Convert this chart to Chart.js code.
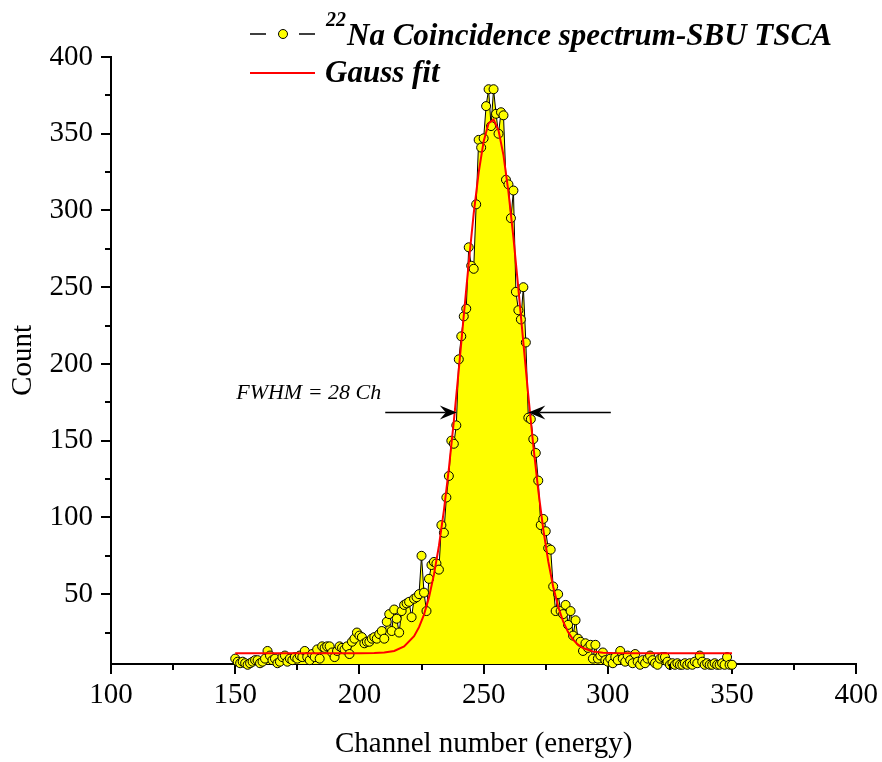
<!DOCTYPE html>
<html lang="en">
<head>
  <meta charset="UTF-8">
  <title>22Na Coincidence spectrum - SBU TSCA</title>
  <script src="https://cdn.jsdelivr.net/npm/chart.js"></script>
  <style>
    body { margin: 0; background: #ffffff; }
    #wrap { width: 882px; height: 762px; }
  </style>
</head>
<body>
  <div id="wrap"><canvas id="spectrum" width="882" height="762"></canvas></div>

  <script>
    // Measured spectrum, one count per channel starting at channel 150
    const firstChannel = 150;
    const counts = [
      8, 6, 5, 6, 5, 4, 5, 6, 7, 7,
      5, 6, 8, 13, 10, 7, 8, 5, 6, 9,
      10, 6, 8, 7, 9, 8, 10, 9, 13, 9,
      7, 11, 9, 14, 8, 16, 15, 16, 16, 12,
      9, 13, 16, 15, 14, 16, 11, 19, 21, 25,
      23, 22, 18, 19, 19, 21, 22, 21, 24, 26,
      21, 32, 37, 26, 40, 34, 25, 39, 43, 44,
      45, 35, 47, 48, 50, 75, 51, 39, 60, 69,
      71, 70, 66, 95, 90, 113, 127, 150, 148, 160,
      203, 218, 231, 236, 276, 264, 262, 304, 346, 341,
      347, 368, 379, 355, 379, 363, 350, 364, 362, 320,
      317, 295, 313, 247, 235, 229, 250, 214, 165, 164,
      151, 142, 124, 95, 99, 91, 80, 79, 55, 39,
      50, 39, 37, 43, 30, 39, 23, 33, 21, 19,
      13, 18, 15, 17, 8, 17, 8, 10, 12, 7,
      6, 8, 5, 9, 7, 13, 8, 6, 10, 7,
      5, 11, 6, 4, 7, 5, 8, 10, 7, 5,
      4, 8, 9, 9, 6, 4, 5, 4, 5, 4,
      4, 5, 4, 5, 4, 6, 5, 10, 6, 4,
      5, 4, 4, 5, 4, 4, 5, 4, 9, 4,
      4
    ];

    // Gauss fit curve
    const fitChannels = [150, 170, 190, 200, 206, 210, 214, 218, 222, 224, 226, 228, 230, 232, 234, 236, 238,
      240, 242, 244, 246, 248, 250, 252, 254, 256, 258, 260, 262, 264, 266, 268, 270, 272, 274, 276, 278,
      280, 282, 284, 286, 288, 290, 294, 298, 302, 310, 330, 350];
    const fitCounts = [11.5, 11.5, 11.5, 11.5, 11.6, 12.0, 13.0, 15.9, 22.6, 28.5, 36.7, 47.9, 62.7, 81.4, 104.4, 131.6, 162.6,
      196.3, 231.4, 265.9, 297.9, 324.7, 345.0, 356.8, 359.2, 352.0, 335.9, 312.0, 282.3, 248.8, 213.7, 179.2, 146.8, 117.6, 92.4, 71.5, 54.8,
      41.9, 32.2, 25.3, 20.4, 17.1, 14.9, 12.7, 11.9, 11.6, 11.5, 11.5, 11.5];

    const xTicks = [100, 150, 200, 250, 300, 350, 400];
    const xMinor = [125, 175, 225, 275, 325, 375];
    const yTicks = [50, 100, 150, 200, 250, 300, 350, 400];
    const yMinor = [25, 75, 125, 175, 225, 275, 325, 375];

    // FWHM arrows: [from channel, tip channel], drawn at count level fwhmLevel
    const fwhmLevel = 169;
    const fwhmArrows = [[210.4, 239.2], [301.2, 268]];
    const fwhmText = 'FWHM = 28 Ch';

    const serif = '"Liberation Serif", "Times New Roman", serif';
    Chart.defaults.font.family = serif;
    Chart.defaults.color = '#000';

    // minor ticks on both axes
    const minorTicks = {
      id: 'minorTicks',
      afterDraw(chart) {
        const { ctx, chartArea, scales } = chart;
        ctx.save();
        ctx.strokeStyle = '#000';
        ctx.lineWidth = 2;
        ctx.beginPath();
        xMinor.forEach(v => {
          const px = Math.round(scales.x.getPixelForValue(v));
          ctx.moveTo(px, chartArea.bottom);
          ctx.lineTo(px, chartArea.bottom + 6);
        });
        yMinor.forEach(v => {
          const py = Math.round(scales.y.getPixelForValue(v));
          ctx.moveTo(chartArea.left, py);
          ctx.lineTo(chartArea.left - 6, py);
        });
        ctx.stroke();
        ctx.restore();
      }
    };

    function arrowHead(ctx, x, y, dir) {
      // dir = 1 points right, -1 points left
      ctx.beginPath();
      ctx.moveTo(x, y);
      ctx.lineTo(x - dir * 17, y - 7);
      ctx.lineTo(x - dir * 11, y);
      ctx.lineTo(x - dir * 17, y + 7);
      ctx.closePath();
      ctx.fill();
    }

    const fwhmNote = {
      id: 'fwhmNote',
      afterDatasetsDraw(chart) {
        const { ctx, scales } = chart;
        const py = Math.round(scales.y.getPixelForValue(fwhmLevel)) + 0.5;
        ctx.save();
        ctx.strokeStyle = '#000';
        ctx.fillStyle = '#000';
        ctx.lineWidth = 1.5;
        fwhmArrows.forEach(([from, tip]) => {
          const x0 = scales.x.getPixelForValue(from);
          const x1 = scales.x.getPixelForValue(tip);
          const dir = x1 > x0 ? 1 : -1;
          ctx.beginPath();
          ctx.moveTo(x0, py);
          ctx.lineTo(x1 - dir * 11, py);
          ctx.stroke();
          arrowHead(ctx, x1, py, dir);
        });
        ctx.font = 'italic 22px ' + serif;
        ctx.textBaseline = 'alphabetic';
        ctx.fillText(fwhmText, scales.x.getPixelForValue(150.4), py - 14);
        ctx.restore();
      }
    };

    // legend with superscript isotope label
    const spectrumLegend = {
      id: 'spectrumLegend',
      afterDraw(chart) {
        const ctx = chart.ctx;
        ctx.save();
        ctx.strokeStyle = '#000';
        ctx.lineWidth = 1.5;
        ctx.beginPath();
        ctx.moveTo(250, 34); ctx.lineTo(266, 34);
        ctx.moveTo(299, 34); ctx.lineTo(315, 34);
        ctx.stroke();
        ctx.lineWidth = 1;
        ctx.beginPath();
        ctx.arc(283, 34, 4.5, 0, Math.PI * 2);
        ctx.fillStyle = '#ffff00';
        ctx.fill();
        ctx.stroke();

        ctx.strokeStyle = '#ff0000';
        ctx.lineWidth = 2;
        ctx.beginPath();
        ctx.moveTo(250, 73); ctx.lineTo(315, 73);
        ctx.stroke();

        ctx.fillStyle = '#000';
        ctx.textBaseline = 'alphabetic';
        ctx.font = 'bold italic 20px ' + serif;
        ctx.fillText('22', 326, 26);
        ctx.font = 'bold italic 31px ' + serif;
        ctx.fillText('Na Coincidence spectrum-SBU TSCA', 347, 45);
        ctx.fillText('Gauss fit', 325, 82);
        ctx.restore();
      }
    };

    const axisGrid = {
      display: true,
      drawOnChartArea: false,
      drawTicks: true,
      tickLength: 10,
      color: '#000',
      lineWidth: 2
    };

    new Chart(document.getElementById('spectrum'), {
      type: 'line',
      data: {
        datasets: [
          {
            label: 'Gauss fit',
            data: fitChannels.map((c, i) => ({ x: c, y: fitCounts[i] })),
            borderColor: '#ff0000',
            borderWidth: 2,
            pointRadius: 0,
            fill: false,
            tension: 0
          },
          {
            label: '22Na Coincidence spectrum-SBU TSCA',
            data: counts.map((c, i) => ({ x: firstChannel + i, y: c })),
            borderColor: '#000',
            borderWidth: 1,
            pointRadius: 4.5,
            pointBackgroundColor: '#ffff00',
            pointBorderColor: '#000',
            pointBorderWidth: 1,
            backgroundColor: '#ffff00',
            fill: 'start',
            tension: 0,
            clip: false
          }
        ]
      },
      options: {
        responsive: false,
        animation: false,
        layout: { padding: { left: 0, top: 57, right: 21, bottom: 0 } },
        plugins: {
          legend: { display: false },
          tooltip: { enabled: false }
        },
        scales: {
          x: {
            type: 'linear',
            min: 100,
            max: 400,
            afterBuildTicks: s => { s.ticks = xTicks.map(v => ({ value: v })); },
            afterFit: s => { s.height = 98; },
            grid: axisGrid,
            border: { color: '#000', width: 2 },
            ticks: { font: { size: 29 }, color: '#000', padding: 4, maxRotation: 0 },
            title: {
              display: true,
              text: 'Channel number (energy)',
              font: { size: 29 },
              color: '#000',
              padding: { top: 0, bottom: 0 }
            }
          },
          y: {
            type: 'linear',
            min: 4.5,
            max: 400,
            afterBuildTicks: s => { s.ticks = yTicks.map(v => ({ value: v })); },
            afterFit: s => { s.width = 111; },
            grid: axisGrid,
            border: { color: '#000', width: 2 },
            ticks: { font: { size: 29 }, color: '#000', padding: 8 },
            title: {
              display: true,
              text: 'Count',
              font: { size: 29 },
              color: '#000',
              padding: { top: 6, bottom: 0 }
            }
          }
        }
      },
      plugins: [minorTicks, fwhmNote, spectrumLegend]
    });
  </script>
</body>
</html>
